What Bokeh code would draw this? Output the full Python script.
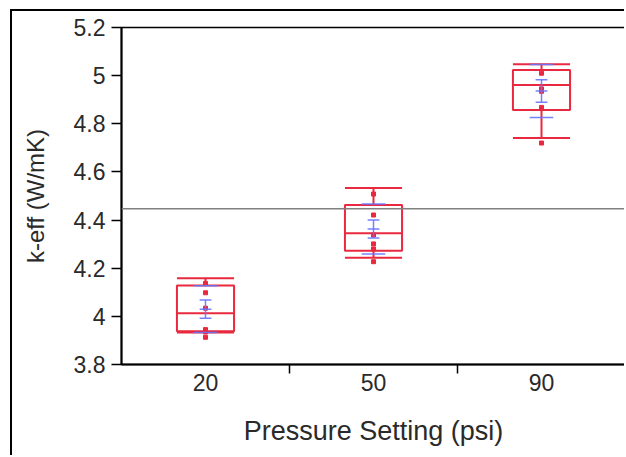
from bokeh.plotting import figure
from bokeh.models import Range1d, FixedTicker, Span
from bokeh.embed import file_html
from bokeh.resources import INLINE

# Pressure settings (psi) and k-eff measurements per setting
pressures = ["20", "50", "90"]

keff_20 = [4.137, 4.098, 4.034, 3.945, 3.935, 3.913]
keff_50 = [4.508, 4.421, 4.338, 4.301, 4.280, 4.227]
keff_90 = [5.010, 4.945, 4.935, 4.868, 4.720]

# Box-plot summary per setting
whisker_hi = [4.158, 4.533, 5.047]
q3 = [4.128, 4.463, 5.023]
median = [4.013, 4.345, 4.961]
q1 = [3.938, 4.273, 4.857]
whisker_lo = [3.933, 4.243, 4.741]

# Mean, standard error and standard deviation per setting
means = [4.030, 4.363, 4.936]
std_err = [0.038, 0.037, 0.047]
std_dev = [0.097, 0.104, 0.110]

grand_mean = 4.447

RED = "#E8293F"
BLUE = "#6674FF"
FONT = "Liberation Sans"

p = figure(width=614, height=446, output_backend="svg", toolbar_location=None,
           x_range=Range1d(0, 3), y_range=Range1d(3.8, 5.2),
           min_border_left=109, min_border_right=1, min_border_top=16,
           min_border_bottom=93)
p.styles = {"margin-left": "10px", "margin-top": "9px",
            "border-left": "2px solid black", "border-top": "2px solid black"}

p.grid.visible = False
p.outline_line_color = "black"
p.outline_line_width = 1.5
p.background_fill_color = "white"
p.border_fill_color = "white"

xc = [i + 0.5 for i in range(len(pressures))]
box_half = 0.17
sd_half = 0.07
se_half = 0.035
mean_half = 0.035

# grand mean reference line
p.add_layout(Span(location=grand_mean, dimension="width", line_color="#808080",
                  line_width=1.5))
# light right edge of the frame
p.add_layout(Span(location=3, dimension="height", line_color="#b4b4b4",
                  line_width=2))

# boxes
p.quad(left=[x - box_half for x in xc], right=[x + box_half for x in xc],
       bottom=q1, top=q3, fill_color=None, line_color=RED, line_width=2)
p.segment(x0=[x - box_half for x in xc], x1=[x + box_half for x in xc],
          y0=median, y1=median, line_color=RED, line_width=2)
# whiskers and caps
p.segment(x0=xc, x1=xc, y0=q3, y1=whisker_hi, line_color=RED, line_width=2)
p.segment(x0=xc, x1=xc, y0=q1, y1=whisker_lo, line_color=RED, line_width=2)
p.segment(x0=[x - box_half for x in xc], x1=[x + box_half for x in xc],
          y0=whisker_hi, y1=whisker_hi, line_color=RED, line_width=2)
p.segment(x0=[x - box_half for x in xc], x1=[x + box_half for x in xc],
          y0=whisker_lo, y1=whisker_lo, line_color=RED, line_width=2)

# individual measurements
px, py = [], []
for x, vals in zip(xc, [keff_20, keff_50, keff_90]):
    px += [x] * len(vals)
    py += vals
p.scatter(px, py, marker="square", size=4, color=RED)

# mean, error bars (±SE) and std dev lines (±SD)
se_hi = [m + s for m, s in zip(means, std_err)]
se_lo = [m - s for m, s in zip(means, std_err)]
sd_hi = [m + s for m, s in zip(means, std_dev)]
sd_lo = [m - s for m, s in zip(means, std_dev)]
p.segment(x0=xc, x1=xc, y0=se_lo, y1=se_hi, line_color=BLUE, line_width=1.5, line_alpha=0.9)
for ys in (se_lo, se_hi):
    p.segment(x0=[x - se_half for x in xc], x1=[x + se_half for x in xc],
              y0=ys, y1=ys, line_color=BLUE, line_width=1.5, line_alpha=0.9)
p.segment(x0=[x - mean_half for x in xc], x1=[x + mean_half for x in xc],
          y0=means, y1=means, line_color=BLUE, line_width=1.5, line_alpha=0.9)
for ys in (sd_lo, sd_hi):
    p.segment(x0=[x - sd_half for x in xc], x1=[x + sd_half for x in xc],
              y0=ys, y1=ys, line_color=BLUE, line_width=1.5, line_alpha=0.9)

# y axis
p.yaxis.ticker = FixedTicker(ticks=[3.8, 4.0, 4.2, 4.4, 4.6, 4.8, 5.0, 5.2], minor_ticks=[])
p.yaxis.major_label_overrides = {3.8: "3.8", 4.0: "4", 4.2: "4.2", 4.4: "4.4",
                                 4.6: "4.6", 4.8: "4.8", 5.0: "5", 5.2: "5.2"}
p.yaxis.axis_label = "k-eff (W/mK)"
p.yaxis.major_tick_out = 10
p.yaxis.major_tick_in = 0
p.yaxis.major_label_standoff = 6

# x axis: labels at category centres, ticks at category boundaries
p.xaxis.ticker = FixedTicker(ticks=xc, minor_ticks=[1, 2])
p.xaxis.major_label_overrides = {x: lab for x, lab in zip(xc, pressures)}
p.xaxis.axis_label = "Pressure Setting (psi)"
p.xaxis.major_tick_out = 0
p.xaxis.major_tick_in = 0
p.xaxis.minor_tick_out = 9
p.xaxis.minor_tick_in = 0
p.xaxis.major_label_standoff = 0

for ax in (p.xaxis, p.yaxis):
    ax.axis_line_color = "black"
    ax.axis_line_width = 2
    ax.major_tick_line_color = "black"
    ax.major_tick_line_width = 1.5
    ax.minor_tick_line_color = "black"
    ax.minor_tick_line_width = 1.5
    ax.major_label_text_font = FONT
    ax.major_label_text_font_size = "23px"
    ax.major_label_text_color = "#2a2a2a"
    ax.axis_label_text_font = FONT
    ax.axis_label_text_font_style = "normal"
    ax.axis_label_text_color = "#2a2a2a"
p.xaxis.axis_label_text_font_size = "27px"
p.yaxis.axis_label_text_font_size = "24px"
p.yaxis.axis_label_standoff = 22
p.xaxis.axis_label_standoff = 22

open("out.html", "w").write(file_html(p, INLINE))
